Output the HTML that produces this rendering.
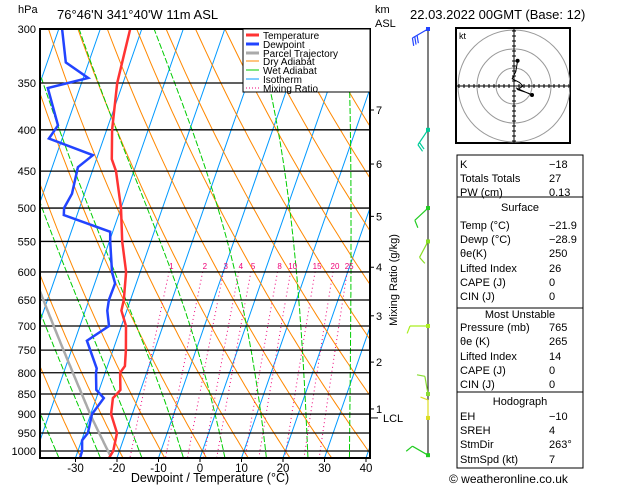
<!DOCTYPE html>
<html><head><meta charset="utf-8"><style>
body{margin:0;background:#fff;width:629px;height:486px;overflow:hidden;font-family:"Liberation Sans",sans-serif}
svg text{font-family:"Liberation Sans",sans-serif}
</style></head><body>
<svg id="c" width="629" height="486" xmlns="http://www.w3.org/2000/svg">
<defs><clipPath id="pc"><rect x="40" y="29" width="330" height="429"/></clipPath>
<clipPath id="hc"><rect x="456" y="28" width="114" height="115"/></clipPath></defs>
<g id="bg" clip-path="url(#pc)"></g>
<g id="grid"></g>
<g id="prof" clip-path="url(#pc)"></g>
<rect x="40" y="29" width="330" height="429" fill="none" stroke="#000" stroke-width="2"/>
<g>
<rect x="243" y="29" width="127" height="63" fill="#fff" stroke="#000" stroke-width="1"/>
<line x1="246" y1="35" x2="259" y2="35" stroke="#f33" stroke-width="3"/><text x="263" y="39" font-size="10">Temperature</text>
<line x1="246" y1="44" x2="259" y2="44" stroke="#2244ff" stroke-width="3"/><text x="263" y="48" font-size="10">Dewpoint</text>
<line x1="246" y1="53" x2="259" y2="53" stroke="#aaa" stroke-width="3"/><text x="263" y="57" font-size="10">Parcel Trajectory</text>
<line x1="246" y1="61" x2="259" y2="61" stroke="#f80" stroke-width="1"/><text x="263" y="65" font-size="10">Dry Adiabat</text>
<line x1="246" y1="70" x2="259" y2="70" stroke="#0c0" stroke-width="1"/><text x="263" y="74" font-size="10">Wet Adiabat</text>
<line x1="246" y1="79" x2="259" y2="79" stroke="#09f" stroke-width="1"/><text x="263" y="83" font-size="10">Isotherm</text>
<line x1="246" y1="88" x2="259" y2="88" stroke="#e07" stroke-width="1" stroke-dasharray="1,2"/><text x="263" y="92" font-size="10">Mixing Ratio</text>
</g>
<text x="18" y="13" font-size="11">hPa</text>
<text x="57" y="19" font-size="13">76°46'N  341°40'W  11m  ASL</text>
<text x="375" y="13" font-size="11">km</text>
<text x="375" y="27" font-size="11">ASL</text>
<text x="410" y="19" font-size="13">22.03.2022  00GMT  (Base: 12)</text>
<text x="210" y="482" font-size="12.5" text-anchor="middle">Dewpoint / Temperature (°C)</text>
<text transform="translate(397,280) rotate(-90)" font-size="11" text-anchor="middle">Mixing Ratio (g/kg)</text>
<g id="km"></g>
<g id="wind"></g>
<g id="hodo"></g>
<g id="tbl" font-size="11"></g>
<text x="449" y="483" font-size="12">© weatheronline.co.uk</text>
</svg>
<script>
const pLevels=[300,350,400,450,500,550,600,650,700,750,800,850,900,950,1000];
const tTicks=[-30,-20,-10,0,10,20,30,40];
const tempP=[300,350,400,435,450,500,550,600,650,670,700,750,785,800,840,850,860,900,950,1000,1020];
const tempT=[-52.8,-51.4,-48.7,-46.3,-44.3,-40,-36.9,-33.4,-31.6,-31.3,-28.9,-26.9,-25.8,-26.4,-24.9,-25.4,-26,-25.1,-22.1,-21.5,-21.9];
const dewP=[300,330,345,355,395,410,430,445,480,500,510,535,550,600,620,650,670,700,730,790,800,840,860,900,950,970,1000,1020];
const dewT=[-69.2,-65.5,-58.8,-67.7,-62.1,-63.2,-51.2,-53.8,-53,-53.7,-53.2,-40.6,-39.8,-36.8,-35.1,-35.2,-34.7,-33,-37.1,-32.4,-32.2,-30.7,-28.2,-29.7,-29.1,-29.9,-29,-28.9];
const mixRatios=[1,2,3,4,5,8,10,15,20,25];
const kmHeights=[1,2,3,4,5,6,7];
const kmPressures=[887,776,680,592,512,441,378];
const windP=[300,400,500,550,700,850,910,1012];
const windDir=[240,214,227,208,270,350,0,300];
const windColors=['#2244ff','#00cc99','#22cc22','#88dd22','#aaee22','#88dd33','#dddd22','#22cc22'];
const hodoU=[2,1,-1,3,5,2,8,10,1];
const hodoV=[14,8,4,2,0,-2,-4,-5,-1];

const NS='http://www.w3.org/2000/svg';
function yP(p){return 29+350.5*Math.log(p/300);}
function xT(T,p){return 200+4.15*T+0.348*(458-yP(p));}
function mk(tag,at,par){const e=document.createElementNS(NS,tag);for(const k in at)e.setAttribute(k,at[k]);par.appendChild(e);return e;}
const bg=document.getElementById('bg'),grid=document.getElementById('grid'),prof=document.getElementById('prof');
function poly(pts,st,sw,dash,par,name){const e=mk('polyline',{points:pts.map(q=>q[0].toFixed(1)+','+q[1].toFixed(1)).join(' '),fill:'none',stroke:st,'stroke-width':sw},par);if(dash)e.setAttribute('stroke-dasharray',dash);

return e;}
for(let T=-120;T<=40;T+=10){poly([[xT(T,1020),yP(1020)],[xT(T,300),yP(300)]],'#09f',1,null,bg,'isotherm');}
for(let th=193.15;th<=483.15;th+=10){const pts=[];for(let p=300;p<=1020;p+=10){const T=th*Math.pow(p/1000,0.286)-273.15;pts.push([xT(T,p),yP(p)]);}poly(pts,'#f80',1,null,bg,'dry-adiabat');}
function es(T){return 6.112*Math.exp(17.67*T/(T+243.5));}
function moist(T0,pStart,pEnd){const pts=[];let T=T0+273.15;let p=pStart;const dp=pEnd<pStart?-5:5;pts.push([p,T-273.15]);
while((dp<0&&p>pEnd)||(dp>0&&p<pEnd)){const e=es(T-273.15);const rs=0.622*e/(p-e);const g=(287*T+2.5e6*rs)/(p*(1005+2.5e6*2.5e6*rs*0.622/(287*T*T)));T+=g*dp;p+=dp;pts.push([p,T-273.15]);}return pts;}
for(let T0=-44;T0<=36;T0+=10){const pts=moist(T0,1020,300).map(q=>[xT(q[1],q[0]),yP(q[0])]);poly(pts,'#0c0',1,'6,2',bg,'wet-adiabat');}
mixRatios.forEach(w=>{const pts=[];for(let p=600;p<=1020;p+=10){const e=w*p/(622+w);const l=Math.log(e/6.112);const T=243.5*l/(17.67-l);pts.push([xT(T,p),yP(p)]);}
poly(pts,'#e07',1,'1,3',bg,'mixing-ratio-line');
const e=w*590/(622+w);const l=Math.log(e/6.112);const T=243.5*l/(17.67-l);const t=mk('text',{x:xT(T,585).toFixed(1),y:269,'font-size':8,fill:'#e07','text-anchor':'middle'},bg);t.textContent=w;

});
pLevels.forEach(p=>{const y=yP(p);const l=mk('line',{x1:40,x2:370,y1:y,y2:y,stroke:'#000','stroke-width':1.3},grid);


const t=mk('text',{x:36,y:y+4,'font-size':11,'text-anchor':'end'},grid);t.textContent=p;

});
tTicks.forEach(T=>{const x=200+4.15*T;mk('line',{x1:x,x2:x,y1:458,y2:462,stroke:'#000'},grid);const t=mk('text',{x:x,y:472,'font-size':11.5,'text-anchor':'middle'},grid);t.textContent=T;

});
(function(){const Ts=tempT[tempT.length-1],ps=1012;const th=(Ts+273.15)*Math.pow(1000/ps,0.286);let pl=910;const pts=[];
for(let p=ps;p>=pl;p-=5){pts.push([p,th*Math.pow(p/1000,0.286)-273.15]);}
const Tl=th*Math.pow(pl/1000,0.286)-273.15;moist(Tl,pl,300).forEach(q=>pts.push(q));
poly(pts.map(q=>[xT(q[1],q[0]),yP(q[0])]),'#aaa',2.5,null,prof,'parcel-trajectory');})();
poly(tempP.map((p,i)=>[xT(tempT[i],p),yP(p)]),'#f33',2.5,null,prof,'temperature-line');
poly(dewP.map((p,i)=>[xT(dewT[i],p),yP(p)]),'#2244ff',2.5,null,prof,'dewpoint-line');
const km=document.getElementById('km');
kmHeights.forEach((h,i)=>{const y=yP(kmPressures[i]);mk('line',{x1:370,x2:374,y1:y,y2:y,stroke:'#000'},km);const t=mk('text',{x:376,y:y+4,'font-size':11},km);t.textContent=h;

});
{const t=mk('text',{x:383,y:422,'font-size':11},km);t.textContent='LCL';mk('line',{x1:370,x2:378,y1:yP(910),y2:yP(910),stroke:'#000'},km);}
const wg=document.getElementById('wind');
mk('line',{x1:428,x2:428,y1:29,y2:457,stroke:'#000'},wg);
windP.forEach((p,i)=>{const y=Math.min(457,yP(p));const a=windDir[i]*Math.PI/180;const L=18;const dx=Math.sin(a)*L,dy=-Math.cos(a)*L;const c=windColors[i];
const g=mk('g',{},wg);
mk('line',{x1:428,y1:y,x2:428+dx,y2:y+dy,stroke:c,'stroke-width':1.2},g);
const bx=Math.sin(a-Math.PI/2.6)*8,by=-Math.cos(a-Math.PI/2.6)*8;
const n=i==0?3:(i==1?2:1);for(let k=0;k<n;k++){const f=1-k*0.15;mk('line',{x1:428+dx*f,y1:y+dy*f,x2:428+dx*f+bx,y2:y+dy*f+by,stroke:c,'stroke-width':1.2},g);}
mk('rect',{x:426,y:y-2,width:4,height:4,fill:c},g);});
const hg=document.getElementById('hodo');const cx=514,cy=86;
mk('rect',{x:456,y:28,width:114,height:115,fill:'#fff',stroke:'#000','stroke-width':2},hg);
const hc=mk('g',{'clip-path':'url(#hc)'},hg);
[18,37,56].forEach(r=>mk('circle',{cx:cx,cy:cy,r:r,fill:'none',stroke:'#999','stroke-width':1},hc));
mk('line',{x1:456,x2:570,y1:cy,y2:cy,stroke:'#000'},hg);mk('line',{x1:cx,x2:cx,y1:28,y2:143,stroke:'#000'},hg);
for(let k=-11;k<=11;k++){mk('line',{x1:cx+k*5,x2:cx+k*5,y1:cy-2,y2:cy+2,stroke:'#000'},hg);mk('line',{y1:cy+k*5,y2:cy+k*5,x1:cx-2,x2:cx+2,stroke:'#000'},hg);}
{const t=mk('text',{x:459,y:39,'font-size':9},hg);t.textContent='kt';}
poly(hodoU.map((u,i)=>[cx+u*1.8,cy-hodoV[i]*1.8]),'#000',1,null,hg,'hodograph-trace');
mk('circle',{cx:cx+hodoU[0]*1.8,cy:cy-hodoV[0]*1.8,r:2},hg);mk('circle',{cx:cx+hodoU[7]*1.8,cy:cy-hodoV[7]*1.8,r:2},hg);
const tb=document.getElementById('tbl');
[[155,197],[197,308],[308,392],[392,468]].forEach(b=>mk('rect',{x:457,y:b[0],width:126,height:b[1]-b[0],fill:'none',stroke:'#000'},tb));
const rows=[['K','-18',168],['Totals Totals','27',182],['PW (cm)','0.13',196],['Temp (°C)','-21.9',229],['Dewp (°C)','-28.9',243],['θe(K)','250',257],['Lifted Index','26',272],['CAPE (J)','0',286],['CIN (J)','0',300],['Pressure (mb)','765',331],['θe (K)','265',345],['Lifted Index','14',360],['CAPE (J)','0',374],['CIN (J)','0',388],['EH','-10',420],['SREH','4',434],['StmDir','263°',448],['StmSpd (kt)','7',463]];
rows.forEach(r=>{const a=mk('text',{x:460,y:r[2]},tb);a.textContent=r[0];const b=mk('text',{x:549,y:r[2]},tb);b.textContent=r[1].replace('-','−');});
[['Surface',211],['Most Unstable',318],['Hodograph',405]].forEach(h=>{const t=mk('text',{x:520,y:h[1],'text-anchor':'middle'},tb);t.textContent=h[0];});
</script>
</body></html>
